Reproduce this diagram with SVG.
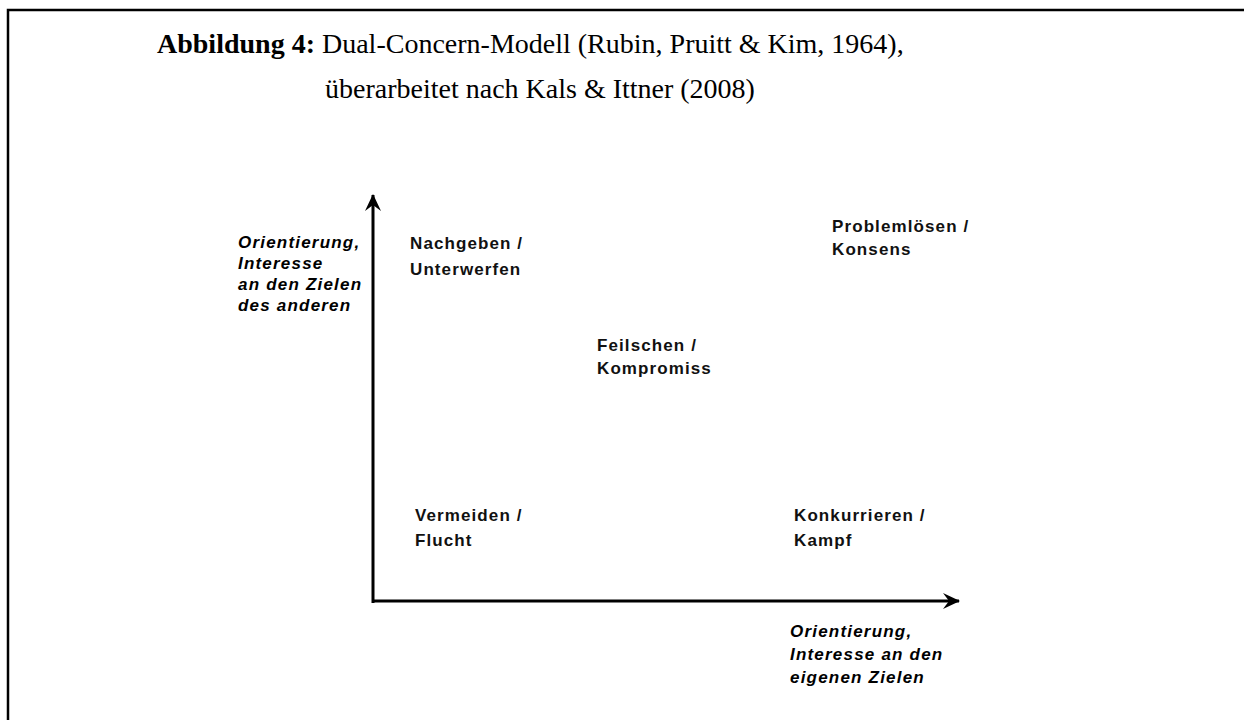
<svg xmlns="http://www.w3.org/2000/svg" width="1244" height="720" viewBox="0 0 1244 720">
<style>
.title{font-family:"Liberation Serif","Times New Roman",serif;font-size:28px;fill:#000}
.lbl{font-family:"Liberation Sans",Arial,sans-serif;font-size:17px;font-weight:bold;fill:#111;letter-spacing:1.1px}
.ax{font-family:"Liberation Sans",Arial,sans-serif;font-size:17px;font-weight:bold;font-style:italic;fill:#000;letter-spacing:1.2px}
.axis{stroke:#000;stroke-width:3;fill:none}
</style>
<defs>
<marker id="ah" viewBox="0 0 20 20" refX="18" refY="10" markerWidth="20" markerHeight="20" markerUnits="userSpaceOnUse" orient="auto">
<path d="M19,10 L2,2 L8,10 L2,18 Z" fill="#000"/>
</marker>
</defs>
<rect width="1244" height="720" fill="#fff"/>
<path d="M8,730 L8,10 L1250,10" stroke="#000" stroke-width="2.5" fill="none"/>
<g id="title">
<text class="title" x="157" y="53"><tspan font-weight="bold">Abbildung 4:</tspan> Dual-Concern-Modell (Rubin, Pruitt &amp; Kim, 1964),</text>
<text class="title" x="325" y="98">überarbeitet nach Kals &amp; Ittner (2008)</text>
</g>
<g id="connectors">
<line class="axis" x1="373" y1="603" x2="373" y2="195" marker-end="url(#ah)"/>
<line class="axis" x1="372" y1="601" x2="959" y2="601" marker-end="url(#ah)"/>
</g>
<g id="y-label">
<text class="ax" x="238" y="248">Orientierung,</text>
<text class="ax" x="238" y="269">Interesse</text>
<text class="ax" x="238" y="290">an den Zielen</text>
<text class="ax" x="238" y="311">des anderen</text>
</g>
<g id="x-label">
<text class="ax" x="790" y="637">Orientierung,</text>
<text class="ax" x="790" y="660">Interesse an den</text>
<text class="ax" x="790" y="683">eigenen Zielen</text>
</g>
<g id="nachgeben">
<text class="lbl" x="410" y="249">Nachgeben /</text>
<text class="lbl" x="410" y="275">Unterwerfen</text>
</g>
<g id="problemloesen">
<text class="lbl" x="832" y="232">Problemlösen /</text>
<text class="lbl" x="832" y="255">Konsens</text>
</g>
<g id="feilschen">
<text class="lbl" x="597" y="351">Feilschen /</text>
<text class="lbl" x="597" y="374">Kompromiss</text>
</g>
<g id="vermeiden">
<text class="lbl" x="415" y="521">Vermeiden /</text>
<text class="lbl" x="415" y="546">Flucht</text>
</g>
<g id="konkurrieren">
<text class="lbl" x="794" y="521">Konkurrieren /</text>
<text class="lbl" x="794" y="546">Kampf</text>
</g>
</svg>
